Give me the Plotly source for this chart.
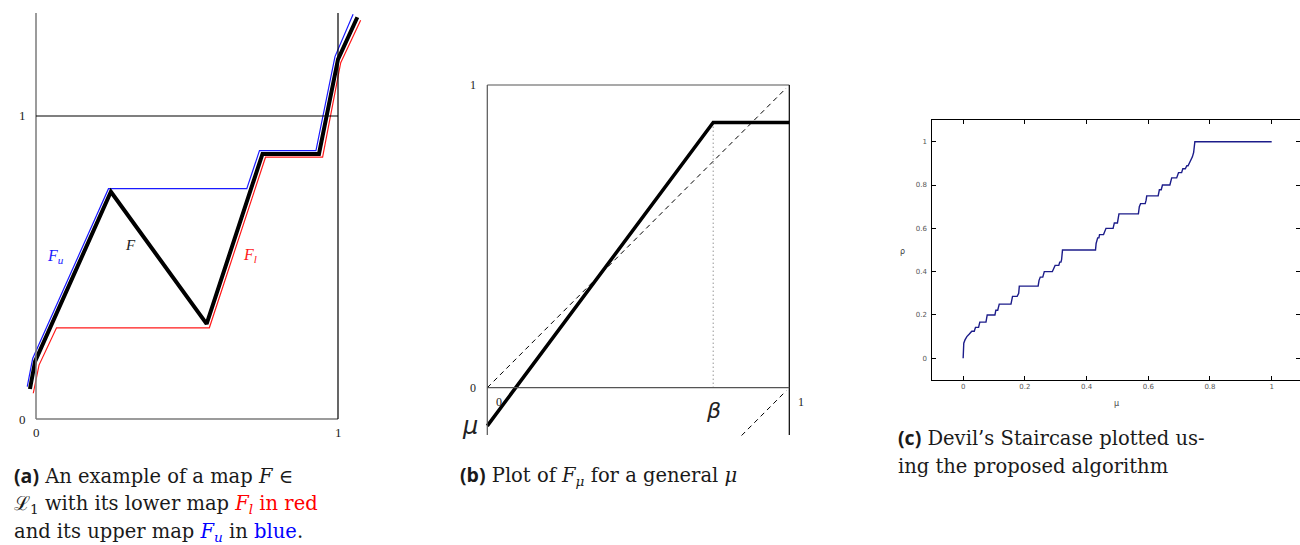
import plotly.graph_objects as go

W, H = 1300, 545

# ---------------- Panel (a): map F with lower/upper maps ----------------
F_x = [-0.02, -0.003, 0.248, 0.565, 0.75, 0.937, 1.0, 1.064]
F_y = [0.099, 0.19, 0.75, 0.314, 0.875, 0.875, 1.187, 1.326]
Fu_x = [-0.029, -0.011, 0.24, 0.698, 0.74, 0.927, 0.99, 1.05]
Fu_y = [0.107, 0.2, 0.76, 0.76, 0.886, 0.886, 1.196, 1.336]
Fl_x = [-0.009, 0.01, 0.068, 0.574, 0.76, 0.949, 1.009, 1.075]
Fl_y = [0.085, 0.178, 0.301, 0.301, 0.864, 0.864, 1.176, 1.316]
a_top = 1.34

# ---------------- Panel (b): F_mu for a general mu ----------------
Fmu_x = [0.0, 0.748, 1.0]
Fmu_y = [-0.126, 0.876, 0.876]
diag_x = [0.0, 0.99]
diag_y = [0.0, 0.99]
diag2_x = [0.842, 0.99]
diag2_y = [-0.158, -0.01]
beta = 0.748
b_bottom = -0.156

# ---------------- Panel (c): Devil's staircase ----------------
mu_vals = [0.0, 0.0, 0.0005, 0.002, 0.006, 0.012, 0.02,
           0.028, 0.036, 0.04, 0.05, 0.054, 0.074, 0.078, 0.103,
           0.106, 0.112, 0.117, 0.155, 0.16, 0.175, 0.178, 0.18,
           0.182, 0.243, 0.246, 0.25, 0.258, 0.263, 0.289, 0.293,
           0.298, 0.31, 0.313, 0.317, 0.319, 0.322, 0.429,
           0.431, 0.433, 0.436, 0.44, 0.442, 0.455, 0.459,
           0.463, 0.486, 0.49, 0.5, 0.503, 0.505, 0.568,
           0.571, 0.575, 0.59, 0.593, 0.595, 0.632, 0.636, 0.642,
           0.646, 0.67, 0.676, 0.692, 0.698, 0.708, 0.712, 0.72,
           0.725, 0.729, 0.733, 0.738, 0.743, 0.747, 0.749, 0.751, 1.0]
rho_vals = [0.0, 0.03, 0.055, 0.07, 0.085, 0.1, 0.112,
            0.125, 0.125, 0.143, 0.143, 0.167, 0.167, 0.2, 0.2,
            0.222, 0.222, 0.25, 0.25, 0.286, 0.286, 0.3, 0.3,
            0.333, 0.333, 0.36, 0.375, 0.375, 0.4, 0.4, 0.417,
            0.429, 0.429, 0.444, 0.444, 0.455, 0.5, 0.5,
            0.53, 0.545, 0.556, 0.556, 0.571, 0.571, 0.583,
            0.6, 0.6, 0.625, 0.625, 0.643, 0.667, 0.667,
            0.7, 0.714, 0.714, 0.73, 0.75, 0.75, 0.778, 0.778,
            0.8, 0.8, 0.833, 0.833, 0.857, 0.857, 0.875, 0.875,
            0.889, 0.889, 0.9, 0.915, 0.93, 0.95, 0.97, 1.0, 1.0]
c_ticks = [0, 0.2, 0.4, 0.6, 0.8, 1]
c_ticklabels = ["0", "0.2", "0.4", "0.6", "0.8", "1"]


def xdom(p0, p1, lo, hi):
    s = p1 - p0
    return [(p0 + lo * s) / W, (p0 + hi * s) / W]


def ydom(p0, p1, lo, hi):
    s = p1 - p0
    return [1 - (p0 + lo * s) / H, 1 - (p0 + hi * s) / H]


fig = go.Figure()

# panel a traces
fig.add_trace(go.Scatter(x=Fu_x, y=Fu_y, mode="lines", line=dict(color="#1a1aff", width=1.2),
                         xaxis="x", yaxis="y", hoverinfo="skip"))
fig.add_trace(go.Scatter(x=Fl_x, y=Fl_y, mode="lines", line=dict(color="#ff1a1a", width=1.2),
                         xaxis="x", yaxis="y", hoverinfo="skip"))
fig.add_trace(go.Scatter(x=F_x, y=F_y, mode="lines", line=dict(color="black", width=4),
                         xaxis="x", yaxis="y", hoverinfo="skip"))

# panel b traces
fig.add_trace(go.Scatter(x=diag_x, y=diag_y, mode="lines", line=dict(color="black", width=1, dash="5px,4px"),
                         xaxis="x2", yaxis="y2", hoverinfo="skip"))
fig.add_trace(go.Scatter(x=diag2_x, y=diag2_y, mode="lines", line=dict(color="black", width=1, dash="5px,4px"),
                         xaxis="x2", yaxis="y2", hoverinfo="skip"))
fig.add_trace(go.Scatter(x=[beta, beta], y=[0, Fmu_y[1]], mode="lines",
                         line=dict(color="#666", width=1, dash="1px,3px"),
                         xaxis="x2", yaxis="y2", hoverinfo="skip"))
fig.add_trace(go.Scatter(x=Fmu_x, y=Fmu_y, mode="lines", line=dict(color="black", width=3.5),
                         xaxis="x2", yaxis="y2", hoverinfo="skip"))

# panel c traces
fig.add_trace(go.Scatter(x=mu_vals, y=rho_vals, mode="lines", line=dict(color="#1c1c8a", width=1.4),
                         xaxis="x3", yaxis="y3", hoverinfo="skip"))
fig.add_trace(go.Scatter(x=[None], y=[None], xaxis="x3", yaxis="y4", hoverinfo="skip"))

shapes = []
# panel a frame
grey = "#7a7a7a"
shapes += [
    dict(type="line", xref="x", yref="y", x0=0, y0=0, x1=0, y1=a_top, line=dict(color=grey, width=1.5)),
    dict(type="line", xref="x", yref="y", x0=0, y0=0, x1=1, y1=0, line=dict(color=grey, width=1.5)),
    dict(type="line", xref="x", yref="y", x0=1, y0=0, x1=1, y1=a_top, line=dict(color="black", width=1.2)),
    dict(type="line", xref="x", yref="y", x0=0, y0=1, x1=1, y1=1, line=dict(color="black", width=1.2)),
]
# panel b frame
g2 = "#555555"
shapes += [
    dict(type="line", xref="x2", yref="y2", x0=0, y0=b_bottom, x1=0, y1=1, line=dict(color=g2, width=1.2)),
    dict(type="line", xref="x2", yref="y2", x0=0, y0=1, x1=1, y1=1, line=dict(color=g2, width=1.2)),
    dict(type="line", xref="x2", yref="y2", x0=1, y0=b_bottom, x1=1, y1=1, line=dict(color="black", width=1.2)),
    dict(type="line", xref="x2", yref="y2", x0=0, y0=0, x1=1, y1=0, line=dict(color=g2, width=1.2)),
]

serif = "Liberation Serif"
capserif = "DejaVu Serif"
ann = []


def txt(x, y, text, size, color="#222", family=serif, xref="x", yref="y", xanchor="center", yanchor="middle"):
    ann.append(dict(x=x, y=y, xref=xref, yref=yref, text=text, showarrow=False,
                    font=dict(family=family, size=size, color=color),
                    xanchor=xanchor, yanchor=yanchor))


# panel a tick labels and series labels
txt(-0.045, 1, "1", 13)
txt(-0.045, 0, "0", 13)
txt(0, -0.045, "0", 13)
txt(1, -0.045, "1", 13)
txt(0.063, 0.535, "<i>F<sub>u</sub></i>", 16, color="#1a1aff")
txt(0.313, 0.574, "<i>F</i>", 15, color="#222")
txt(0.709, 0.54, "<i>F<sub>l</sub></i>", 16, color="#ff1a1a")

# panel b labels
txt(-0.046, 1, "1", 12, xref="x2", yref="y2")
txt(-0.046, 0, "0", 12, xref="x2", yref="y2")
txt(0.04, -0.047, "0", 12, xref="x2", yref="y2")
txt(1.04, -0.047, "1", 12, xref="x2", yref="y2")
txt(beta + 0.002, -0.075, "<i>β</i>", 22, color="#222", family="DejaVu Sans", xref="x2", yref="y2")
txt(-0.057, -0.125, "<i>μ</i>", 24, color="#222", family="DejaVu Sans", xref="x2", yref="y2")

# panel c axis titles
txt(1116.7 / W, 1 - 403 / H, "μ", 8, color="#444", family="DejaVu Sans", xref="paper", yref="paper")
txt(902.7 / W, 1 - 251.7 / H, "ρ", 8, color="#444", family="DejaVu Sans", xref="paper", yref="paper")

# captions
bold = '<span style="font-family:\'Open Sans\';font-weight:bold">'
cap = 19.5
txt(12 / W, 1 - 475 / H, bold + "(a)</span> An example of a map <i>F</i> ∈", cap, color="#1a1a1a",
    family=capserif, xref="paper", yref="paper", xanchor="left")
txt(12 / W, 1 - 504 / H, "ℒ<sub>1</sub> with its lower map <span style='color:#ff0000'><i>F<sub>l</sub></i> in red</span>",
    cap, color="#1a1a1a", family=capserif, xref="paper", yref="paper", xanchor="left")
txt(12 / W, 1 - 532 / H, "and its upper map <span style='color:#0000ff'><i>F<sub>u</sub></i></span> in <span style='color:#0000ff'>blue</span>.",
    cap, color="#1a1a1a", family=capserif, xref="paper", yref="paper", xanchor="left")
txt(458 / W, 1 - 475 / H, bold + "(b)</span> Plot of <i>F<sub>μ</sub></i> for a general <i>μ</i>", cap, color="#1a1a1a",
    family=capserif, xref="paper", yref="paper", xanchor="left")
txt(896 / W, 1 - 437 / H, bold + "(c)</span> Devil’s Staircase plotted us-", cap, color="#1a1a1a",
    family=capserif, xref="paper", yref="paper", xanchor="left")
txt(896 / W, 1 - 466 / H, "ing the proposed algorithm", cap, color="#1a1a1a",
    family=capserif, xref="paper", yref="paper", xanchor="left")

c_xhi = (W - 963.3) / (1271.7 - 963.3)

fig.update_layout(
    width=W, height=H, margin=dict(l=0, r=0, t=0, b=0),
    paper_bgcolor="white", plot_bgcolor="rgba(0,0,0,0)", showlegend=False,
    shapes=shapes, annotations=ann,
    xaxis=dict(domain=xdom(36, 338, -0.1, 1.15), range=[-0.1, 1.15], visible=False, anchor="y"),
    yaxis=dict(domain=ydom(419, 116, -0.12, 1.36), range=[-0.12, 1.36], visible=False, anchor="x"),
    xaxis2=dict(domain=xdom(487.3, 789.3, -0.1, 1.1), range=[-0.1, 1.1], visible=False, anchor="y2"),
    yaxis2=dict(domain=ydom(387.7, 85, -0.2, 1.05), range=[-0.2, 1.05], visible=False, anchor="x2"),
    xaxis3=dict(domain=[932.3 / W, 1.0], range=[-0.1, c_xhi], anchor="y3",
                showline=True, linecolor="black", linewidth=1, mirror="ticks",
                ticks="inside", ticklen=4, tickcolor="black", tickwidth=1,
                tickvals=c_ticks, ticktext=c_ticklabels, showgrid=False, zeroline=False,
                tickfont=dict(family="DejaVu Sans", size=7, color="#555")),
    yaxis3=dict(domain=ydom(358.3, 141.7, -0.1, 1.1), range=[-0.1, 1.1], anchor="x3",
                showline=True, linecolor="black", linewidth=1, mirror=False,
                ticks="inside", ticklen=4, tickcolor="black", tickwidth=1,
                tickvals=c_ticks, ticktext=c_ticklabels, showgrid=False, zeroline=False,
                tickfont=dict(family="DejaVu Sans", size=7, color="#555"), ticklabelstandoff=3),
    yaxis4=dict(overlaying="y3", side="right", anchor="x3", range=[-0.1, 1.1],
                showline=False, ticks="inside", ticklen=4, tickcolor="black",
                tickvals=c_ticks, showticklabels=False, showgrid=False, zeroline=False),
)

fig.write_html("out.html", config={"displayModeBar": False},
               post_script="document.body.style.margin='0';")
